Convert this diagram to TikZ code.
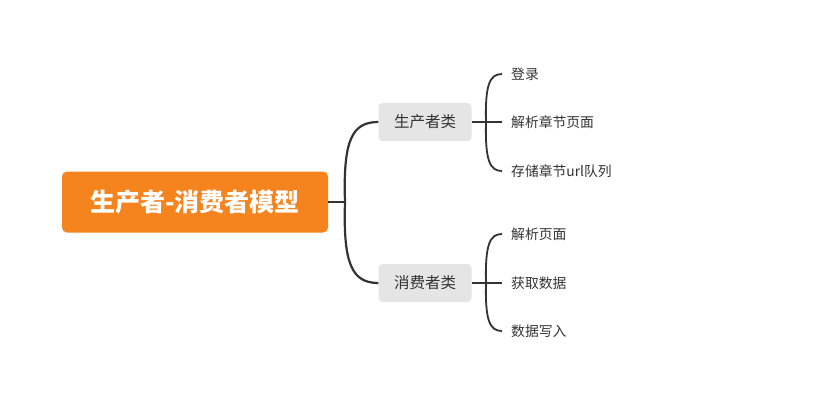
\documentclass[tikz,border=0pt]{standalone}
\usepackage{fontspec}
\setmainfont{Noto Sans CJK SC}
\usetikzlibrary{positioning}
\definecolor{rootorange}{HTML}{F5841F}
\definecolor{topicgray}{HTML}{E5E5E5}
\definecolor{linegray}{HTML}{333333}
\begin{document}
\begin{tikzpicture}[
  x=1pt, y=-1pt,
  root/.style={rectangle, rounded corners=5pt, fill=rootorange, text=white,
               minimum width=266pt, minimum height=61pt, align=center,
               font=\fontsize{25}{29}\selectfont\bfseries},
  topic/.style={rectangle, rounded corners=4pt, fill=topicgray, text=linegray,
                minimum width=93pt, minimum height=38pt, align=center,
                font=\fontsize{15.5}{18}\selectfont},
  leaf/.style={anchor=west, inner xsep=9pt, inner ysep=2pt, text=linegray,
               font=\fontsize{13.8}{16}\selectfont},
  brace/.style={draw=linegray, line width=2.2pt},
  stem/.style={draw=linegray, line width=2.8pt},
  twig/.style={draw=linegray, line width=1.8pt},
]
\useasboundingbox (0,0) rectangle (815,412);

\node[root] (model) at (195,202) {生产者-消费者模型};
\node[topic] (prod) at (425,122) {生产者类};
\node[topic] (cons) at (425,283) {消费者类};

\node[leaf] (login)  at (502,74)  {登录};
\node[leaf] (parsec) at (502,122) {解析章节页面};
\node[leaf] (store)  at (502,171) {存储章节url队列};
\node[leaf] (parsep) at (502,234) {解析页面};
\node[leaf] (fetch)  at (502,283) {获取数据};
\node[leaf] (write)  at (502,331) {数据写入};

\coordinate (hub) at (345,202);
\coordinate (phub) at (486,122);
\coordinate (chub) at (486,283);

% root to topics
\draw[stem] (model.east) -- (hub);
\draw[brace] (hub) .. controls (343,140) and (352,122) .. (prod.west);
\draw[brace] (hub) .. controls (343,264) and (352,283) .. (cons.west);

% producer leaves
\draw[stem] (prod.east) -- (phub);
\draw[twig] (phub) -- (parsec.west);
\draw[twig] (phub) .. controls (485,84) and (490,74) .. (login.west);
\draw[twig] (phub) .. controls (485,161) and (490,171) .. (store.west);

% consumer leaves
\draw[stem] (cons.east) -- (chub);
\draw[twig] (chub) -- (fetch.west);
\draw[twig] (chub) .. controls (485,244) and (490,234) .. (parsep.west);
\draw[twig] (chub) .. controls (485,321) and (490,331) .. (write.west);
\end{tikzpicture}
\end{document}
